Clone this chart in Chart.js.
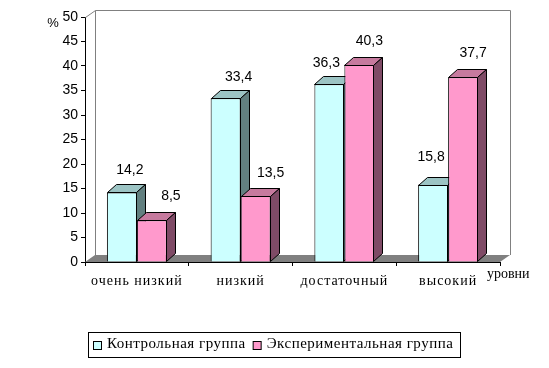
<!DOCTYPE html>
<html><head><meta charset="utf-8">
<script src="https://cdn.jsdelivr.net/npm/chart.js@4/dist/chart.umd.min.js"></script>
<style>html,body{margin:0;padding:0;background:#fff;overflow:hidden}#wrap{width:549px;height:368px;position:relative}</style>
</head><body><div id="wrap"><canvas id="c" width="549" height="368"></canvas></div>
<script>
const categories = ['очень низкий', 'низкий', 'достаточный', 'высокий'];
const controlValues = [14.2, 33.4, 36.3, 15.8];
const experimentalValues = [8.5, 13.5, 40.3, 37.7];
const seriesNames = ['Контрольная группа', 'Экспериментальная группа'];
const yTickValues = [0, 5, 10, 15, 20, 25, 30, 35, 40, 45, 50];
const yUnit = '%';
const xTitle = 'уровни';

// styling
const faces = [
  {front: '#CCFFFF', top: '#9CC4C4', side: '#628080'},
  {front: '#FF99CC', top: '#C67A9E', side: '#7F4B66'}
];
// data-label nudges (dx, dy from bar front top centre), as placed in the original
const labelNudge = [
  [[8, -22], [13, -21], [-3, -21], [-2, -27]],
  [[19, -24], [15, -23], [10, -23], [10, -24]]
];
const BAR_DX = 9, BAR_DY = 8;
const WALL_DX = 10, WALL_DY = 7;
const SANS = "'Liberation Sans', Arial, sans-serif";
const SERIF = "'Liberation Serif', 'Times New Roman', serif";

const fmt = v => String(v).replace('.', ',');

const threeD = {
  id: 'threeD',
  beforeDatasetsDraw(chart) {
    const {ctx, chartArea: {left, right, top, bottom}} = chart;
    ctx.save();
    ctx.fillStyle = '#808080';
    ctx.beginPath();
    ctx.moveTo(left, bottom);
    ctx.lineTo(left + WALL_DX, bottom - WALL_DY);
    ctx.lineTo(right + WALL_DX, bottom - WALL_DY);
    ctx.lineTo(right, bottom);
    ctx.closePath();
    ctx.fill();
    ctx.strokeStyle = '#808080';
    ctx.lineWidth = 1;
    ctx.beginPath();
    ctx.moveTo(left + WALL_DX + 0.5, bottom - WALL_DY);
    ctx.lineTo(left + WALL_DX + 0.5, top - WALL_DY + 0.5);
    ctx.lineTo(right + WALL_DX + 0.5, top - WALL_DY + 0.5);
    ctx.lineTo(right + WALL_DX + 0.5, bottom - WALL_DY);
    ctx.stroke();
    ctx.beginPath();
    ctx.moveTo(left + 0.5, top + 0.5);
    ctx.lineTo(left + WALL_DX + 0.5, top - WALL_DY + 0.5);
    ctx.stroke();
    ctx.restore();
  },
  beforeDatasetDraw() { return false; },
  afterDatasetsDraw(chart) {
    const ctx = chart.ctx;
    ctx.save();
    const n = chart.data.labels.length;
    for (let j = 0; j < n; j++) {
      chart.data.datasets.forEach((ds, i) => {
        const bar = chart.getDatasetMeta(i).data[j];
        bar.draw(ctx);
        const f = faces[i];
        const {x, y, base, width} = bar.getProps(['x', 'y', 'base', 'width'], true);
        const l = Math.round(x - width / 2) + 0.5, r = Math.round(x + width / 2) - 0.5;
        const t = Math.round(y) + 0.5, b = Math.round(base) - 0.5;
        ctx.save();
        ctx.strokeStyle = '#000';
        ctx.lineWidth = 1;
        ctx.fillStyle = f.top;
        ctx.beginPath();
        ctx.moveTo(l, t); ctx.lineTo(l + BAR_DX, t - BAR_DY); ctx.lineTo(r + BAR_DX, t - BAR_DY); ctx.lineTo(r, t); ctx.closePath();
        ctx.fill(); ctx.stroke();
        ctx.fillStyle = f.side;
        ctx.beginPath();
        ctx.moveTo(r, t); ctx.lineTo(r + BAR_DX, t - BAR_DY); ctx.lineTo(r + BAR_DX, b - BAR_DY); ctx.lineTo(r, b); ctx.closePath();
        ctx.fill(); ctx.stroke();
        ctx.restore();
      });
    }
    ctx.fillStyle = '#000';
    ctx.font = '14px ' + SANS;
    ctx.textAlign = 'center';
    ctx.textBaseline = 'middle';
    chart.data.datasets.forEach((ds, i) => {
      chart.getDatasetMeta(i).data.forEach((bar, j) => {
        const [dx, dy] = labelNudge[i][j];
        ctx.fillText(fmt(ds.data[j]), bar.x + dx, bar.y + dy);
      });
    });
    const {left, right, bottom, top} = chart.chartArea;
    ctx.font = '13px ' + SANS;
    ctx.textAlign = 'center';
    ctx.fillText(yUnit, left - 32, top + 6);
    ctx.font = '14px ' + SERIF;
    ctx.textAlign = 'left';
    ctx.fillText(xTitle, right - 13, bottom + 12);
    const lx = 88, ly = 332, lw = 372, lh = 25;
    ctx.strokeStyle = '#000';
    ctx.lineWidth = 1;
    ctx.strokeRect(lx + 0.5, ly + 0.5, lw, lh);
    ctx.font = '15px ' + SERIF;
    ctx.letterSpacing = '0.5px';
    ctx.textBaseline = 'alphabetic';
    let cx = lx + 5;
    seriesNames.forEach((name, i) => {
      ctx.fillStyle = faces[i].front;
      ctx.fillRect(cx + 0.5, ly + 9.5, 8, 8);
      ctx.strokeRect(cx + 0.5, ly + 9.5, 8, 8);
      ctx.fillStyle = '#000';
      ctx.fillText(name, cx + 14, ly + 16);
      cx += 14 + ctx.measureText(name).width + 7;
    });
    ctx.restore();
    ctx.letterSpacing = '1px';
  },
  afterDraw(chart) { chart.ctx.letterSpacing = '0px'; }
};

new Chart(document.getElementById('c'), {
  type: 'bar',
  data: {
    labels: categories,
    datasets: [
      {label: seriesNames[0], data: controlValues, backgroundColor: faces[0].front, borderColor: '#000', borderWidth: 1,
       categoryPercentage: 0.578, barPercentage: 1},
      {label: seriesNames[1], data: experimentalValues, backgroundColor: faces[1].front, borderColor: '#000', borderWidth: 1,
       categoryPercentage: 0.578, barPercentage: 1}
    ]
  },
  options: {
    responsive: false,
    devicePixelRatio: 1,
    animation: false,
    layout: {padding: {top: 17, right: 49, left: 0, bottom: 0}},
    plugins: {legend: {display: false}, tooltip: {enabled: false}},
    scales: {
      x: {
        offset: true,
        ticks: {font: {family: SERIF, size: 14}, color: '#000', padding: 7, maxRotation: 0, autoSkip: false, z: 1},
        grid: {offset: true, drawOnChartArea: false, drawTicks: true, tickLength: 4, color: '#000'},
        border: {display: true, color: '#000', width: 1},
        afterFit(scale) { scale.height = 106; }
      },
      y: {
        min: 0, max: 50,
        afterBuildTicks(scale) { scale.ticks = yTickValues.map(v => ({value: v})); },
        ticks: {font: {family: SANS, size: 14}, color: '#000', padding: 3},
        grid: {drawOnChartArea: false, drawTicks: true, tickLength: 4, color: '#000'},
        border: {display: true, color: '#000', width: 1},
        afterFit(scale) { scale.width = 85; }
      }
    }
  },
  plugins: [threeD]
});
</script>
</body></html>
